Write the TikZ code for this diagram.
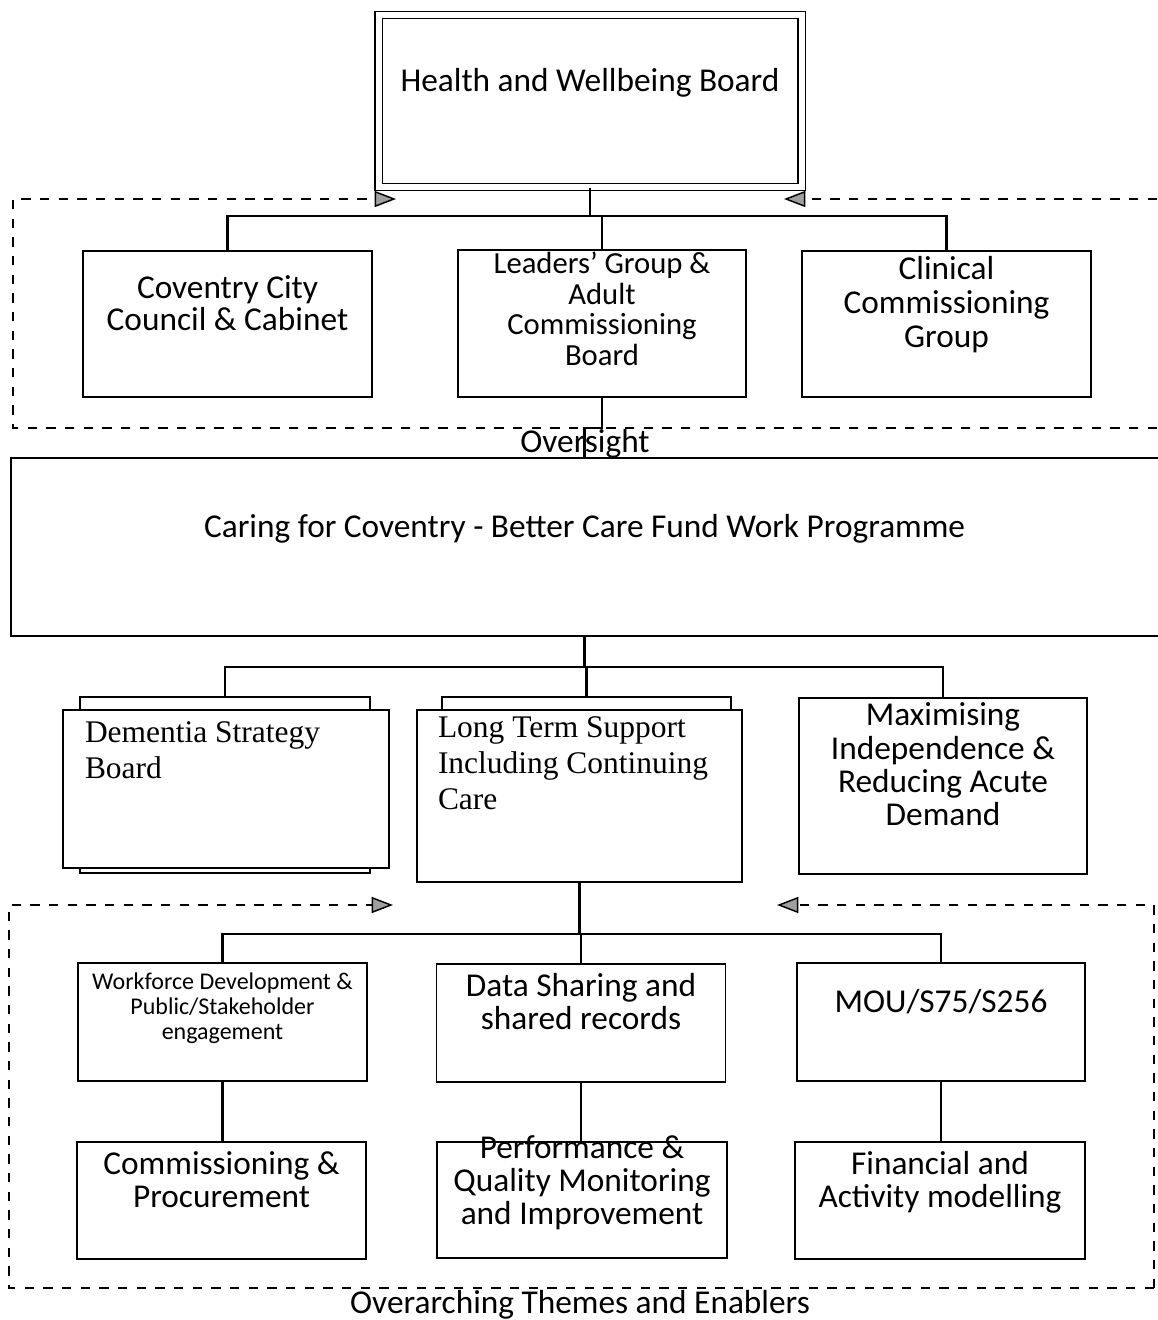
\documentclass[tikz,border=0pt]{standalone}
\usepackage{fontspec}
\setmainfont{Carlito}
\newfontfamily\tnr{Liberation Serif}
\usetikzlibrary{arrows.meta}
\begin{document}
\begin{tikzpicture}[x=0.75pt,y=-0.75pt,
  box/.style={draw, line width=1.2pt, rectangle, fill=white, align=center, inner sep=0pt, font={\fontsize{25}{24.75}\selectfont}},
  tbox/.style={draw, line width=1.2pt, rectangle, fill=white},
  pbox/.style 2 args={minimum width=#1*0.75pt, minimum height=#2*0.75pt},
  conn/.style={line width=1.6pt},
  dl/.style={line width=1.1pt, dash pattern=on 7pt off 7pt},
  tipr/.style={-{Triangle[length=16pt,width=12pt,fill=gray!75]}},
  lbl/.style={font={\fontsize{25}{25}\selectfont}, inner sep=0pt}
]
\useasboundingbox (0,0) rectangle (1157,1320);

% top board
\node[box, pbox={423}{172}, double, double distance=4.5pt, line width=0.9pt] (hwb) at (590,101) {Health and Wellbeing Board\\\strut};

% top dashed frame
\coordinate (fa) at (1157,428);
\coordinate (fb) at (13,428);
\coordinate (fc) at (13,199);
\coordinate (fd) at (396,199);
\coordinate (fe) at (1157,199);
\coordinate (ff) at (784,199);
\draw[dl, tipr] (fa) -- (fb) -- (fc) -- (fd);
\draw[dl, tipr] (fe) -- (ff);

% top row
\node[box, pbox={289}{146}, font={\fontsize{25}{24}\selectfont}] (ccc) at (227.5,324) {Coventry City\\Council \& Cabinet\\\strut};
\node[tbox, inner sep=0pt, pbox={288}{147}] (leaders) at (602,323.5)
  {\begin{minipage}[c][110.25pt][t]{214pt}\centering\fontsize{23}{23}\selectfont\vspace*{1.5pt}\strut Leaders’ Group \&\\Adult\\Commissioning\\Board\end{minipage}};
\node[box, pbox={289}{146}, font={\fontsize{25}{25.5}\selectfont}] (ccg) at (946.5,324) {Clinical\\Commissioning\\Group\\\strut};

% caring box
\node[box, draw=none, fill=none, pbox={1145}{176}] (caring) at (584.5,547) {Caring for Coventry - Better Care Fund Work Programme\\\strut};
\draw[line width=1.2pt] (caring.north east) -- (caring.north west) -- (caring.south west) -- (caring.south east);
\node[lbl] (oversight) at (585,444) {Oversight};

% middle row
\node[box, pbox={290}{176}] (demback) at (225,785) {};
\node[tbox, minimum width=244.5pt, minimum height=118.5pt, inner xsep=16.5pt, inner ysep=8.6pt] (dementia) at (226,789)
  {\begin{minipage}[t][101.3pt][t]{211.5pt}\raggedright\tnr\fontsize{23.6}{27}\selectfont Dementia Strategy\\Board\end{minipage}};
\node[box, pbox={289}{178}] (ltback) at (586.5,786) {};
\node[tbox, minimum width=243.75pt, minimum height=129pt, inner xsep=15.75pt, inner ysep=5.25pt] (longterm) at (579.5,796)
  {\begin{minipage}[t][118.5pt][t]{212.25pt}\raggedright\tnr\fontsize{23.6}{27}\selectfont Long Term Support\\Including Continuing\\Care\end{minipage}};
\node[box, pbox={288}{176}, font={\fontsize{25}{25}\selectfont}] (maxim) at (943,786) {Maximising\\Independence \&\\Reducing Acute\\Demand\\\strut};

% bottom dashed frame
\coordinate (ga) at (1154,1288);
\coordinate (gb) at (9,1288);
\coordinate (gc) at (9,905);
\coordinate (gd) at (393,905);
\coordinate (ge) at (1154,905);
\coordinate (gf) at (777,905);
\draw[dl, tipr] (ga) -- (gb) -- (gc) -- (gd);
\draw[dl, tipr] (ga) -- (ge) -- (gf);

% bottom rows
\node[box, pbox={289}{118}, font={\fontsize{18}{18.75}\selectfont}] (work) at (222.5,1022) {Workforce Development \&\\Public/Stakeholder\\engagement\\\strut};
\node[box, pbox={289}{118}] (data) at (581,1023) {Data Sharing and\\shared records\\\strut};
\node[box, pbox={288}{118}] (mou) at (941,1022) {MOU/S75/S256\\\strut};
\node[box, pbox={289}{117}] (comm) at (221.5,1200.5) {Commissioning \&\\Procurement\\\strut};
\node[tbox, inner sep=0pt, pbox={290}{116}] (perf) at (582,1200)
  {\begin{minipage}[c][87pt][t]{217.5pt}\centering\fontsize{25}{25}\selectfont\vspace*{-5.5pt}\strut Performance \&\\Quality Monitoring\\and Improvement\end{minipage}};
\node[box, pbox={290}{117}] (fin) at (940,1200.5) {Financial and\\Activity modelling\\\strut};
\node[lbl] (over) at (580,1305) {Overarching Themes and Enablers};

% connectors
\draw[conn] (hwb.south) -- ++(0,28) coordinate (j0);
\draw[conn] (j0) -| (ccc.north);
\draw[conn] (j0) -| (leaders.north);
\draw[conn] (j0) -| (ccg.north);
\draw[conn] (leaders.south) -- ++(0,30) -| (caring.north);
\draw[conn] (caring.south) -- ++(0,31) coordinate (j1);
\draw[conn] (j1) -| (demback.north);
\draw[conn] (j1) -| (ltback.north);
\draw[conn] (j1) -| (maxim.north);
\draw[conn] (longterm.south) -- ++(0,51) coordinate (j2);
\draw[conn] (j2) -| (work.north);
\draw[conn] (j2) -| (data.north);
\draw[conn] (j2) -| (mou.north);
\draw[conn] (work.south) -- (work.south |- comm.north);
\draw[conn] (data.south) -- (data.south |- perf.north);
\draw[conn] (mou.south) -- (mou.south |- fin.north);
\end{tikzpicture}
\end{document}
